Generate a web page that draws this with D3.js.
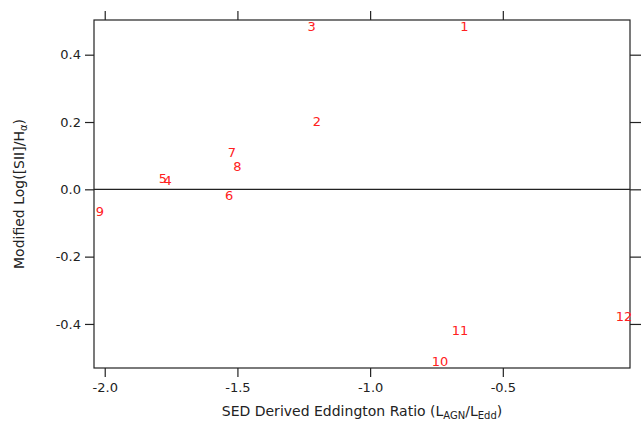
<!DOCTYPE html>
<html><head><meta charset="utf-8">
<script src="https://cdn.jsdelivr.net/npm/d3@7"></script>
<style>
body{margin:0;background:#fff;}
text{font-family:"DejaVu Sans",Verdana,sans-serif;}
</style></head><body>
<svg id="c" width="641" height="422"></svg>
<script>
const labels = ["1","2","3","4","5","6","7","8","9","10","11","12"];
const xVals = [-0.645,-1.201,-1.220,-1.763,-1.781,-1.531,-1.521,-1.500,-2.018,-0.737,-0.661,-0.043];
const yVals = [0.483,0.201,0.485,0.026,0.033,-0.017,0.110,0.069,-0.064,-0.512,-0.418,-0.376];
const xTicks = [-2.0,-1.5,-1.0,-0.5];
const yTicks = [-0.4,-0.2,0.0,0.2,0.4];

const svg = d3.select("#c");
const L=94,R=630,T=20,B=368;
const x = d3.scaleLinear().domain([-2.0404,-0.0208]).range([L,R]);
const y = d3.scaleLinear().domain([-0.5309,0.5031]).range([B,T]);
const col="#222";

// frame
svg.append("rect").attr("x",L).attr("y",T).attr("width",R-L).attr("height",B-T)
  .attr("fill","none").attr("stroke",col).attr("stroke-width",1.2);

// zero line
svg.append("line").attr("x1",L).attr("x2",R).attr("y1",y(0)).attr("y2",y(0))
  .attr("stroke",col).attr("stroke-width",1.2);

const fmt = d3.format(".1f");
const fmtTick = v => fmt(v).replace("−","-");
// axes
const ax = svg.append("g").attr("transform",`translate(0,${B})`)
  .call(d3.axisBottom(x).tickValues(xTicks).tickSize(9).tickPadding(6).tickFormat(fmtTick));
const axT = svg.append("g").attr("transform",`translate(0,${T})`)
  .call(d3.axisTop(x).tickValues(xTicks).tickSize(9).tickFormat(""));
const ay = svg.append("g").attr("transform",`translate(${L},0)`)
  .call(d3.axisLeft(y).tickValues(yTicks).tickSize(9).tickPadding(4).tickFormat(fmtTick));
const ayR = svg.append("g").attr("transform",`translate(${R},0)`)
  .call(d3.axisRight(y).tickValues(yTicks).tickSize(11).tickFormat(""));
[ax,axT,ay,ayR].forEach(g=>{
  g.select(".domain").remove();
  g.selectAll("line").attr("stroke",col).attr("stroke-width",1.2);
  g.selectAll("text").attr("fill","#222").style("font-size","13px")
   .style("font-family","'DejaVu Sans',Verdana,sans-serif");
});

// point labels
svg.append("g").selectAll("text").data(labels).join("text")
  .attr("x",(d,i)=>x(xVals[i])).attr("y",(d,i)=>y(yVals[i]))
  .attr("text-anchor","middle").attr("dy","0.36em")
  .attr("fill","#ff2020").style("font-size","13px").text(d=>d);

// x title
const xt = svg.append("text").attr("x",362).attr("y",416).attr("text-anchor","middle")
  .attr("fill","#222").style("font-size","14px");
xt.append("tspan").text("SED Derived Eddington Ratio (L");
xt.append("tspan").attr("dy",3).style("font-size","10px").text("AGN");
xt.append("tspan").attr("dy",-3).text("/L");
xt.append("tspan").attr("dy",3).style("font-size","10px").text("Edd");
xt.append("tspan").attr("dy",-3).text(")");

// y title
const yt = svg.append("text").attr("transform","translate(24,194) rotate(-90)")
  .attr("text-anchor","middle").attr("fill","#222").style("font-size","14px");
yt.append("tspan").text("Modified Log([SII]/H");
yt.append("tspan").attr("dy",3).style("font-size","10px").text("α");
yt.append("tspan").attr("dy",-3).text(")");
</script>
</body></html>
